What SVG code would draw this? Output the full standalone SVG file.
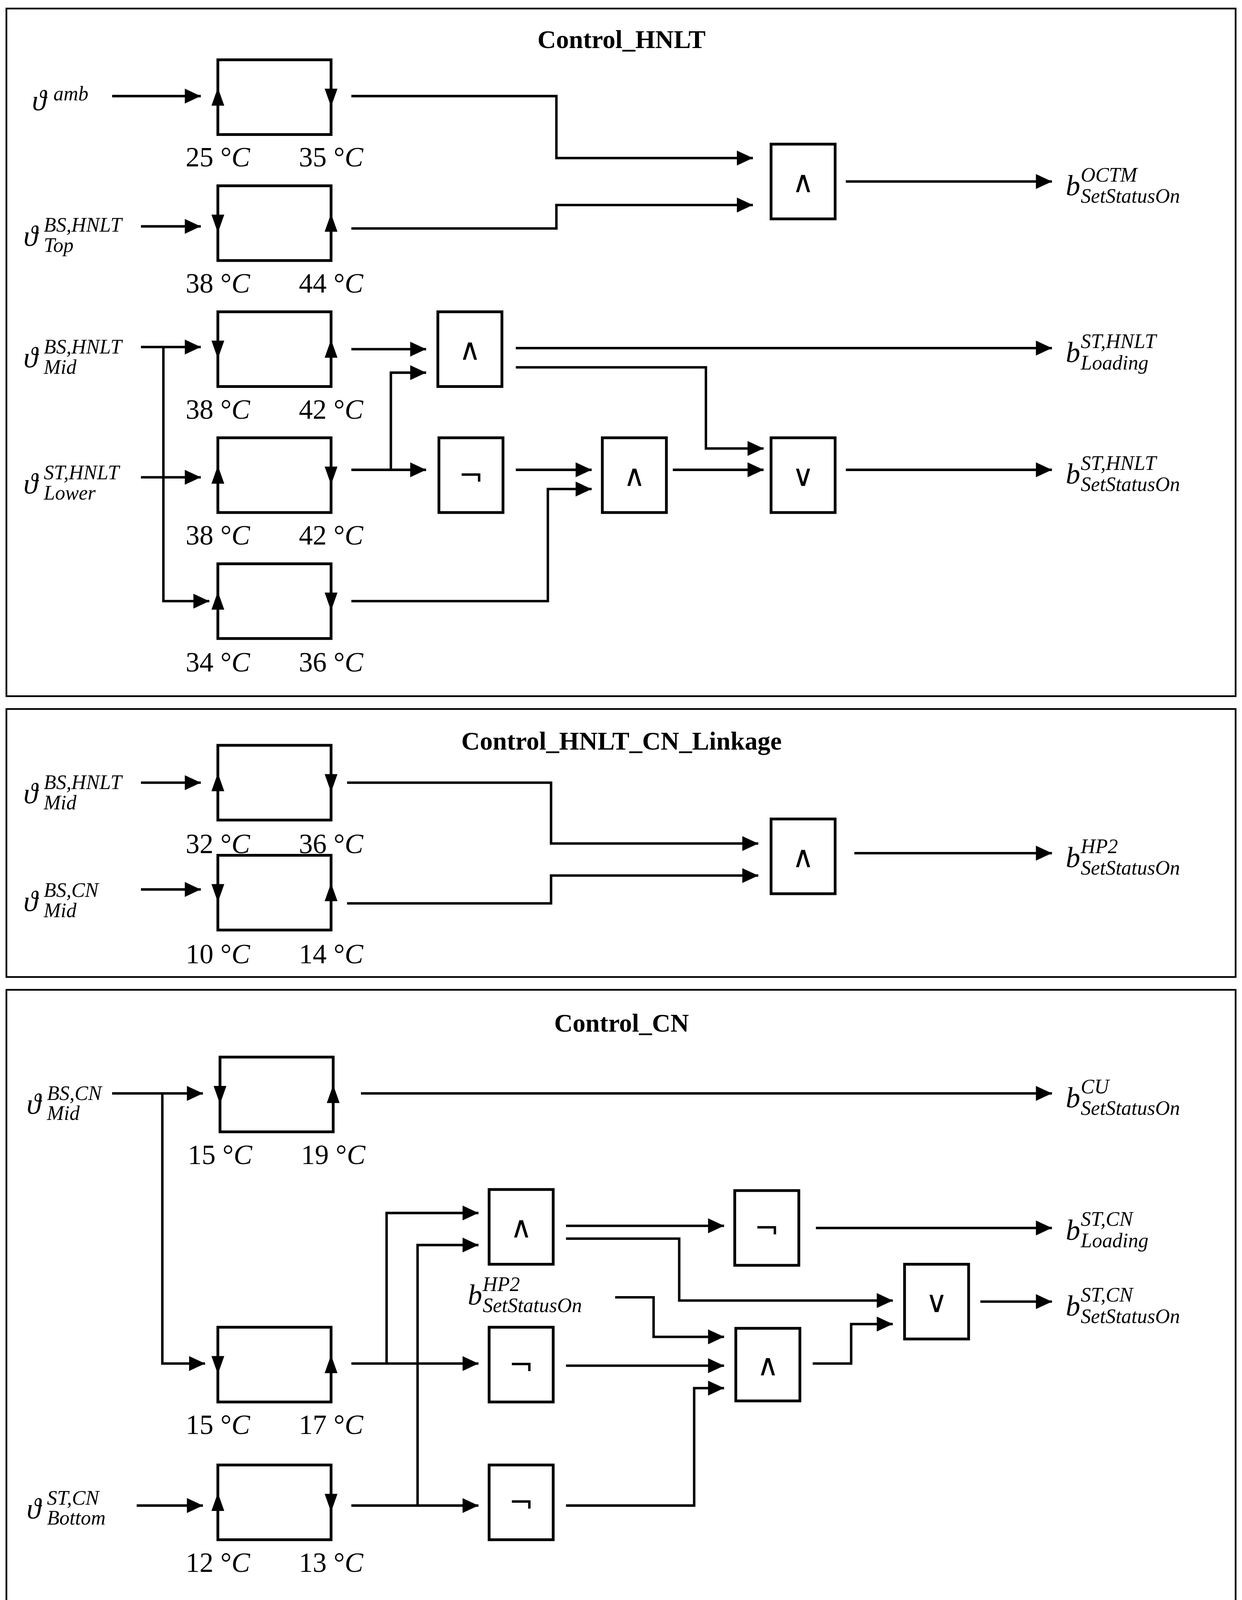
<svg xmlns="http://www.w3.org/2000/svg" width="3179" height="4275" viewBox="0 0 3179 4275">
<style>
.pn{fill:none;stroke:#000;stroke-width:1.6}
.bx{fill:#fff;stroke:#000;stroke-width:2.6}
.ln{fill:none;stroke:#000;stroke-width:2.3}
.ar{fill:none;stroke:#000;stroke-width:2.3;marker-end:url(#ah)}
.tt{font-family:"Liberation Serif",serif;font-weight:bold;font-size:24px;text-anchor:middle}
.m{font-family:"Liberation Serif",serif;font-style:italic;font-size:27px}
.s{font-family:"Liberation Serif",serif;font-style:italic;font-size:19px}
.t{font-family:"Liberation Serif",serif;font-size:26px;text-anchor:middle}
.g{font-family:"DejaVu Sans",sans-serif;font-size:28px;text-anchor:middle}
</style>
<defs>
<marker id="ah" markerUnits="userSpaceOnUse" markerWidth="16" markerHeight="14" refX="15" refY="7" orient="auto"><path d="M0,0 L15,7 L0,14 Z" fill="#000"/></marker>
<path id="up" d="M0,-9 L6,8 L-6,8 Z" fill="#000"/>
<path id="dn" d="M0,9 L6,-8 L-6,-8 Z" fill="#000"/>
</defs>
<rect width="3179" height="4275" fill="#fff"/>
<g transform="scale(2.7335)">
<g id="panels">
<rect class="pn" x="6" y="8" width="1151" height="644"/>
<rect class="pn" x="6" y="664" width="1151" height="251"/>
<rect class="pn" x="6" y="927" width="1151" height="630"/>
<text class="tt" x="582" y="45">Control_HNLT</text>
<text class="tt" x="582" y="702">Control_HNLT_CN_Linkage</text>
<text class="tt" x="582" y="966">Control_CN</text>
</g>
<g id="connectors">
<path class="ar" d="M105,90 H188"/>
<path class="ar" d="M132,212 H188"/>
<path class="ar" d="M132,325 H188"/>
<path class="ar" d="M153,325 V563 H196"/>
<path class="ar" d="M132,447 H188"/>
<path class="ar" d="M329,90 H521 V148 H705"/>
<path class="ar" d="M329,214 H521 V192 H705"/>
<path class="ar" d="M792,170 H985"/>
<path class="ar" d="M329,327 H399"/>
<path class="ar" d="M329,440 H399"/>
<path class="ar" d="M366,440 V349 H399"/>
<path class="ar" d="M483,326 H985"/>
<path class="ar" d="M483,344 H661 V420 H715"/>
<path class="ar" d="M483,440 H554"/>
<path class="ar" d="M329,563 H513 V458 H554"/>
<path class="ar" d="M630,440 H715"/>
<path class="ar" d="M792,440 H985"/>
<path class="ar" d="M132,733 H188"/>
<path class="ar" d="M132,833 H188"/>
<path class="ar" d="M325,733 H516 V790 H710"/>
<path class="ar" d="M325,846 H516 V820 H710"/>
<path class="ar" d="M800,799 H985"/>
<path class="ar" d="M105,1024 H190"/>
<path class="ar" d="M338,1024 H985"/>
<path class="ar" d="M152,1024 V1277 H192"/>
<path class="ar" d="M128,1410 H190"/>
<path class="ar" d="M329,1277 H448"/>
<path class="ar" d="M362,1277 V1136 H448"/>
<path class="ar" d="M329,1410 H448"/>
<path class="ar" d="M391,1410 V1166 H448"/>
<path class="ar" d="M530,1148 H678"/>
<path class="ar" d="M530,1160 H636 V1218 H836"/>
<path class="ar" d="M764,1150 H985"/>
<path class="ar" d="M576,1215 H612 V1252 H678"/>
<path class="ar" d="M530,1279 H678"/>
<path class="ar" d="M530,1410 H650 V1300 H678"/>
<path class="ar" d="M761,1277 H797 V1240 H836"/>
<path class="ar" d="M918,1219 H985"/>
</g>
<g id="hys1"><rect class="bx" x="204" y="56" width="106" height="70"/><use href="#up" x="204" y="91"/><use href="#dn" x="310" y="91"/><text class="t" x="204" y="156">25 °<tspan font-style="italic">C</tspan></text><text class="t" x="310" y="156">35 °<tspan font-style="italic">C</tspan></text></g>
<g id="hys2"><rect class="bx" x="204" y="174" width="106" height="70"/><use href="#dn" x="204" y="209"/><use href="#up" x="310" y="209"/><text class="t" x="204" y="274">38 °<tspan font-style="italic">C</tspan></text><text class="t" x="310" y="274">44 °<tspan font-style="italic">C</tspan></text></g>
<g id="hys3"><rect class="bx" x="204" y="292" width="106" height="70"/><use href="#dn" x="204" y="327"/><use href="#up" x="310" y="327"/><text class="t" x="204" y="392">38 °<tspan font-style="italic">C</tspan></text><text class="t" x="310" y="392">42 °<tspan font-style="italic">C</tspan></text></g>
<g id="hys4"><rect class="bx" x="204" y="410" width="106" height="70"/><use href="#up" x="204" y="445"/><use href="#dn" x="310" y="445"/><text class="t" x="204" y="510">38 °<tspan font-style="italic">C</tspan></text><text class="t" x="310" y="510">42 °<tspan font-style="italic">C</tspan></text></g>
<g id="hys5"><rect class="bx" x="204" y="528" width="106" height="70"/><use href="#up" x="204" y="563"/><use href="#dn" x="310" y="563"/><text class="t" x="204" y="629">34 °<tspan font-style="italic">C</tspan></text><text class="t" x="310" y="629">36 °<tspan font-style="italic">C</tspan></text></g>
<g id="and1"><rect class="bx" x="722" y="135" width="60" height="70"/><text class="g" x="752" y="180">∧</text></g>
<g id="and2"><rect class="bx" x="410" y="292" width="60" height="70"/><text class="g" x="440" y="337">∧</text></g>
<g id="not1"><rect class="bx" x="411" y="410" width="60" height="70"/><text class="g" x="441" y="455">¬</text></g>
<g id="and3"><rect class="bx" x="564" y="410" width="60" height="70"/><text class="g" x="594" y="455">∧</text></g>
<g id="or1"><rect class="bx" x="722" y="410" width="60" height="70"/><text class="g" x="752" y="455">∨</text></g>
<g id="hys6"><rect class="bx" x="204" y="698" width="106" height="70"/><use href="#up" x="204" y="733"/><use href="#dn" x="310" y="733"/><text class="t" x="204" y="799">32 °<tspan font-style="italic">C</tspan></text><text class="t" x="310" y="799">36 °<tspan font-style="italic">C</tspan></text></g>
<g id="hys7"><rect class="bx" x="204" y="801" width="106" height="70"/><use href="#dn" x="204" y="836"/><use href="#up" x="310" y="836"/><text class="t" x="204" y="902">10 °<tspan font-style="italic">C</tspan></text><text class="t" x="310" y="902">14 °<tspan font-style="italic">C</tspan></text></g>
<g id="and4"><rect class="bx" x="722" y="767" width="60" height="70"/><text class="g" x="752" y="812">∧</text></g>
<g id="hys8"><rect class="bx" x="206" y="990" width="106" height="70"/><use href="#dn" x="206" y="1025"/><use href="#up" x="312" y="1025"/><text class="t" x="206" y="1090">15 °<tspan font-style="italic">C</tspan></text><text class="t" x="312" y="1090">19 °<tspan font-style="italic">C</tspan></text></g>
<g id="hys9"><rect class="bx" x="204" y="1243" width="106" height="70"/><use href="#dn" x="204" y="1278"/><use href="#up" x="310" y="1278"/><text class="t" x="204" y="1343">15 °<tspan font-style="italic">C</tspan></text><text class="t" x="310" y="1343">17 °<tspan font-style="italic">C</tspan></text></g>
<g id="hys10"><rect class="bx" x="204" y="1372" width="106" height="70"/><use href="#up" x="204" y="1407"/><use href="#dn" x="310" y="1407"/><text class="t" x="204" y="1472">12 °<tspan font-style="italic">C</tspan></text><text class="t" x="310" y="1472">13 °<tspan font-style="italic">C</tspan></text></g>
<g id="and5"><rect class="bx" x="458" y="1114" width="60" height="70"/><text class="g" x="488" y="1159">∧</text></g>
<g id="not2"><rect class="bx" x="458" y="1243" width="60" height="70"/><text class="g" x="488" y="1288">¬</text></g>
<g id="not3"><rect class="bx" x="458" y="1372" width="60" height="70"/><text class="g" x="488" y="1417">¬</text></g>
<g id="not4"><rect class="bx" x="688" y="1115" width="60" height="70"/><text class="g" x="718" y="1160">¬</text></g>
<g id="and6"><rect class="bx" x="689" y="1244" width="60" height="68"/><text class="g" x="719" y="1288">∧</text></g>
<g id="or2"><rect class="bx" x="847" y="1184" width="60" height="70"/><text class="g" x="877" y="1229">∨</text></g>
<g id="labels">
<text class="m" x="30" y="103">ϑ</text><text class="s" x="50" y="94">amb</text>
<text class="m" x="22" y="230">ϑ</text><text class="s" x="41" y="217">BS,HNLT</text><text class="s" x="41" y="236">Top</text>
<text class="m" x="22" y="344">ϑ</text><text class="s" x="41" y="331">BS,HNLT</text><text class="s" x="41" y="350">Mid</text>
<text class="m" x="22" y="462">ϑ</text><text class="s" x="41" y="449">ST,HNLT</text><text class="s" x="41" y="468">Lower</text>
<text class="m" x="22" y="752">ϑ</text><text class="s" x="41" y="739">BS,HNLT</text><text class="s" x="41" y="758">Mid</text>
<text class="m" x="22" y="853">ϑ</text><text class="s" x="41" y="840">BS,CN</text><text class="s" x="41" y="859">Mid</text>
<text class="m" x="25" y="1043">ϑ</text><text class="s" x="44" y="1030">BS,CN</text><text class="s" x="44" y="1049">Mid</text>
<text class="m" x="25" y="1422">ϑ</text><text class="s" x="44" y="1409">ST,CN</text><text class="s" x="44" y="1428">Bottom</text>
<text class="m" x="998" y="183">b</text><text class="s" x="1012" y="170">OCTM</text><text class="s" x="1012" y="190">SetStatusOn</text>
<text class="m" x="998" y="339">b</text><text class="s" x="1012" y="326">ST,HNLT</text><text class="s" x="1012" y="346">Loading</text>
<text class="m" x="998" y="453">b</text><text class="s" x="1012" y="440">ST,HNLT</text><text class="s" x="1012" y="460">SetStatusOn</text>
<text class="m" x="998" y="812">b</text><text class="s" x="1012" y="799">HP2</text><text class="s" x="1012" y="819">SetStatusOn</text>
<text class="m" x="998" y="1037">b</text><text class="s" x="1012" y="1024">CU</text><text class="s" x="1012" y="1044">SetStatusOn</text>
<text class="m" x="998" y="1161">b</text><text class="s" x="1012" y="1148">ST,CN</text><text class="s" x="1012" y="1168">Loading</text>
<text class="m" x="998" y="1232">b</text><text class="s" x="1012" y="1219">ST,CN</text><text class="s" x="1012" y="1239">SetStatusOn</text>
<text class="m" x="438" y="1222">b</text><text class="s" x="452" y="1209">HP2</text><text class="s" x="452" y="1229">SetStatusOn</text>
</g>
</g>
</svg>
